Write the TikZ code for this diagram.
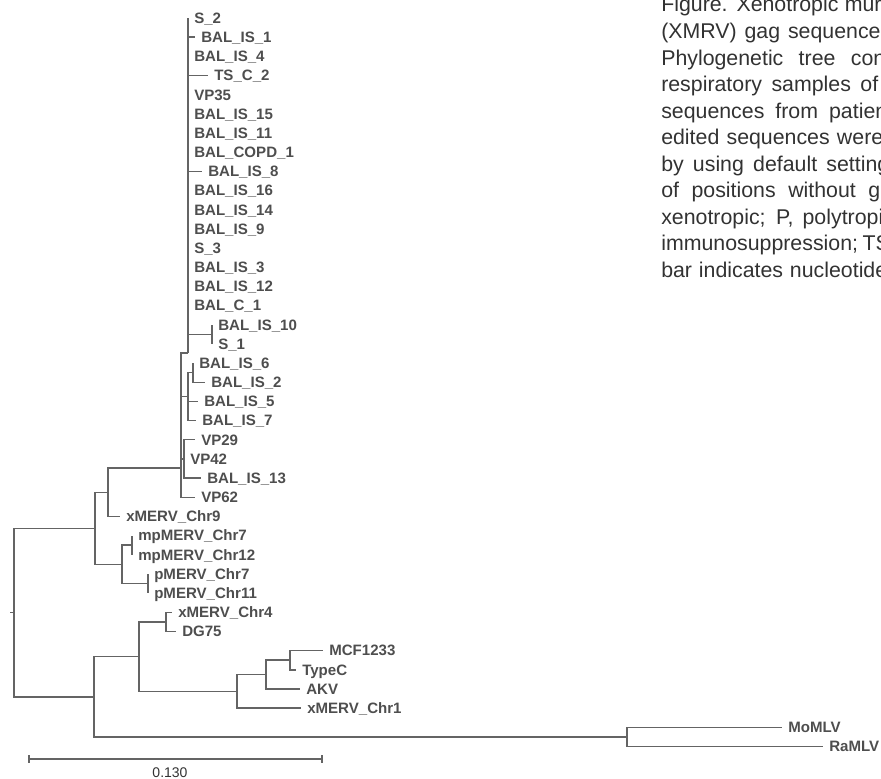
\documentclass[tikz,border=0pt]{standalone}
\usepackage{fontspec}
\setmainfont{Liberation Sans}
\usepackage{xcolor}
\definecolor{treegray}{RGB}{100,100,100}
\definecolor{taxgray}{RGB}{78,78,78}
\definecolor{capgray}{RGB}{50,50,50}

\begin{document}
\begin{tikzpicture}[
  x=0.75pt, y=-0.75pt,
  br/.style={draw=treegray, line width=1.1pt},
  tax/.style={anchor=west, inner xsep=4.5pt, inner ysep=0pt, text height=8pt,
              text depth=0pt, font=\fontsize{11.3}{13}\selectfont\bfseries, text=taxgray},
  captext/.style={anchor=base west, inner sep=0pt, font=\fontsize{16}{19}\selectfont, text=capgray},
]
  \useasboundingbox (0,0) rectangle (881,778);

  % -- caption, cut at the right edge --
  \begin{scope}
    \clip (0,0) rectangle (881,778);
    \node[captext] (cap1) at (661,12) {\makebox[168.75pt][s]{Figure. Xenotropic muri}};
    \node[captext] (cap2) at (661,38.5) {\makebox[172.5pt][s]{(XMRV) gag sequences}};
    \node[captext] (cap3) at (661,65) {\makebox[168pt][s]{Phylogenetic tree con}};
    \node[captext] (cap4) at (661,91.5) {\makebox[162.75pt][s]{respiratory samples of}};
    \node[captext] (cap5) at (661,118) {\makebox[169.5pt][s]{sequences from patien}};
    \node[captext] (cap6) at (661,144.5) {\makebox[166.5pt][s]{edited sequences were}};
    \node[captext] (cap7) at (661,171) {\makebox[171pt][s]{by using default setting}};
    \node[captext] (cap8) at (661,197.5) {\makebox[164.25pt][s]{of positions without g}};
    \node[captext] (cap9) at (661,224) {\makebox[166.5pt][s]{xenotropic; P, polytropi}};
    \node[captext] (cap10) at (661,250.5) {\makebox[171pt][s]{immunosuppression; TS}};
    \node[captext] (cap11) at (661,277) {\makebox[169.5pt][s]{bar indicates nucleotide}};
  \end{scope}

  % -- tree, one row per taxon --
  \begin{scope}[yshift=-13.5pt, y=-14.3775pt]
    \coordinate (root) at (14,31.01);
    \coordinate (stub) at (10,31.01);
    \coordinate (mer) at (95,26.62);
    \coordinate (env) at (108,24.74);
    \coordinate (xmrv) at (181,23.47);
    \coordinate (core) at (188,17.48);
    \coordinate (pair) at (212,16.5);
    \coordinate (grpC) at (188,19.75);
    \coordinate (grpCa) at (193,18.5);
    \coordinate (grpD) at (184,23);
    \coordinate (merP) at (122,28.5);
    \coordinate (mp) at (132,27.5);
    \coordinate (pm) at (148,29.5);
    \coordinate (low) at (94,35.41);
    \coordinate (mid) at (139,33.31);
    \coordinate (chr) at (166,31.5);
    \coordinate (akv) at (237,35.125);
    \coordinate (akvA) at (266,34.25);
    \coordinate (mcf) at (290,33.5);
    \coordinate (mo) at (627,37.5);

    % inner branches
    \draw[br] (stub) -- (root);
    \foreach \a/\b in {root/mer,root/low,mer/env,mer/merP,env/xmrv,merP/mp,merP/pm,
                       xmrv/core,xmrv/grpC,xmrv/grpD,core/pair,grpC/grpCa,
                       low/mid,low/mo,mid/chr,mid/akv,akv/akvA,akvA/mcf} {
      \draw[br] (\a) |- (\b);
    }

    % taxa and their branches
    \foreach \r/\tx/\tip/\mom in {
      0/S\_2/188/core, 1/BAL\_IS\_1/195/core, 2/BAL\_IS\_4/188/core,
      3/TS\_C\_2/208/core, 4/VP35/188/core, 5/BAL\_IS\_15/188/core,
      6/BAL\_IS\_11/188/core, 7/BAL\_COPD\_1/188/core, 8/BAL\_IS\_8/202/core,
      9/BAL\_IS\_16/188/core, 10/BAL\_IS\_14/188/core, 11/BAL\_IS\_9/188/core,
      12/S\_3/188/core, 13/BAL\_IS\_3/188/core, 14/BAL\_IS\_12/188/core,
      15/BAL\_C\_1/188/core, 16/BAL\_IS\_10/212/pair, 17/S\_1/212/pair,
      18/BAL\_IS\_6/193/grpCa, 19/BAL\_IS\_2/205/grpCa, 20/BAL\_IS\_5/198/grpC,
      21/BAL\_IS\_7/196/grpC, 22/VP29/195/grpD, 23/VP42/184/grpD,
      24/BAL\_IS\_13/201/grpD, 25/VP62/195/xmrv, 26/xMERV\_Chr9/120/env,
      27/mpMERV\_Chr7/132/mp, 28/mpMERV\_Chr12/132/mp, 29/pMERV\_Chr7/148/pm,
      30/pMERV\_Chr11/148/pm, 31/xMERV\_Chr4/172/chr, 32/DG75/176/chr,
      33/MCF1233/323/mcf, 34/TypeC/296/mcf, 35/AKV/300/akvA,
      36/xMERV\_Chr1/301/akv, 37/MoMLV/782/mo, 38/RaMLV/823/mo} {
      \node[tax] (t\r) at (\tip,\r) {\tx};
      \draw[br] (\mom) |- (t\r.west);
    }
  \end{scope}

  % -- scale bar --
  \coordinate (sbL) at (29,759);
  \coordinate (sbR) at (322,759);
  \draw[br] (sbL) -- (sbR);
  \draw[br] ([yshift=3pt]sbL) -- ([yshift=-3pt]sbL);
  \draw[br] ([yshift=3pt]sbR) -- ([yshift=-3pt]sbR);
  \node[anchor=base, inner sep=0pt, font=\fontsize{10.5}{12}\selectfont, text=capgray]
    (sblab) at (170,777) {0.130};
\end{tikzpicture}
\end{document}
